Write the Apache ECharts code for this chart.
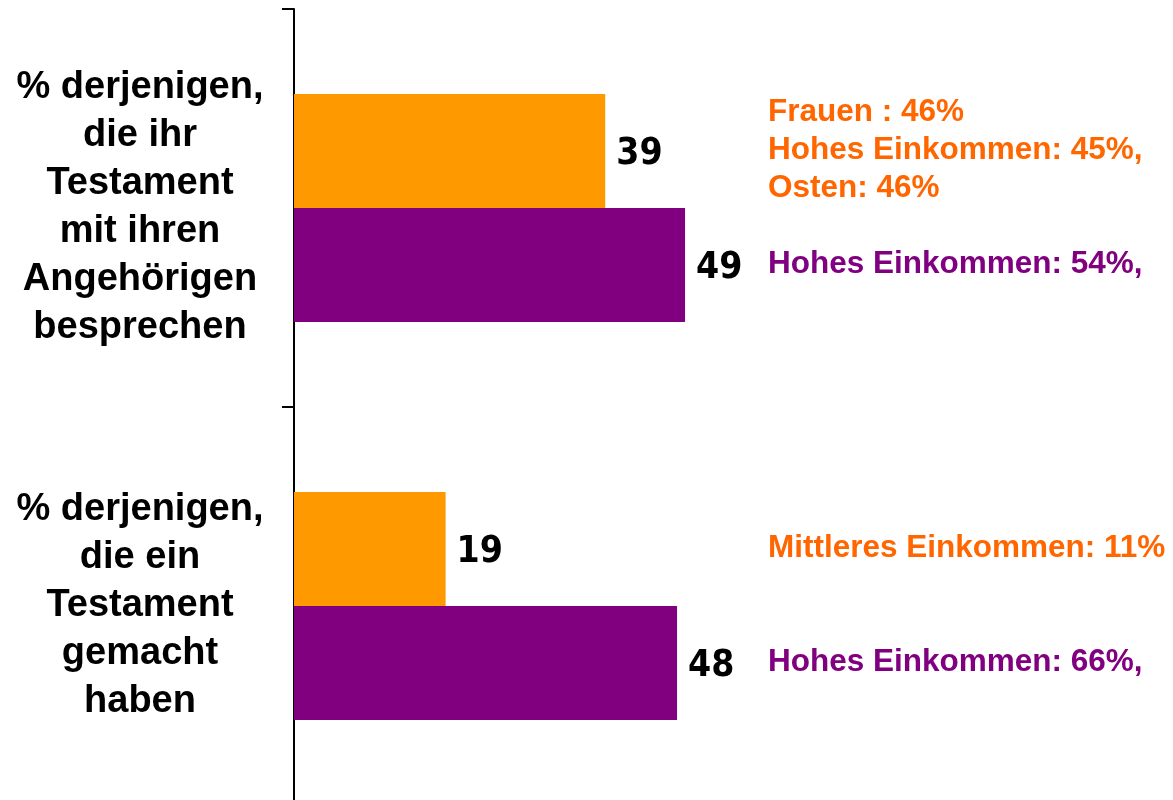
<!DOCTYPE html>
<html>
<head>
<meta charset="utf-8">
<style>
  html, body { margin: 0; padding: 0; background: #ffffff; overflow: hidden; }
  #chart { width: 1173px; height: 812px; }
</style>
<script src="https://cdn.jsdelivr.net/npm/echarts@6/dist/echarts.min.js"></script>
</head>
<body>
<div id="chart"></div>
<script>
// Question labels, top to bottom
const categories = [
  '% derjenigen,\ndie ihr\nTestament\nmit ihren\nAngehörigen\nbesprechen',
  '% derjenigen,\ndie ein\nTestament\ngemacht\nhaben'
];
// Percentages per question
const orangeValues = [39, 19];
const purpleValues = [49, 48];
// Notes printed to the right of each bar
const orangeNotes = ['Frauen : 46%\nHohes Einkommen: 45%,\nOsten: 46%', 'Mittleres Einkommen: 11%'];
const purpleNotes = ['Hohes Einkommen: 54%,', 'Hohes Einkommen: 66%,'];

const ORANGE = '#FF9900';
const PURPLE = '#800080';
const NOTE_ORANGE = '#FF6600';
const BAR_W = 114;

const chart = echarts.init(document.getElementById('chart'));

const valueLabel = {
  show: true,
  position: 'right',
  distance: 11,
  offset: [0, 3],
  color: '#000000',
  fontFamily: '"DejaVu Sans Condensed", "DejaVu Sans", sans-serif',
  fontWeight: 'bold',
  fontSize: 37
};

// The axis runs past the bottom edge of the page, so its last boundary tick stays out of view
chart.setOption({
  animation: false,
  backgroundColor: '#ffffff',
  grid: { left: 294, top: 9, width: 798, height: 796, containLabel: false },
  xAxis: {
    type: 'value',
    min: 0,
    max: 100,
    show: false
  },
  yAxis: {
    type: 'category',
    inverse: true,
    data: categories,
    axisLine: { show: true, lineStyle: { color: '#000000', width: 2 } },
    axisTick: { show: true, length: 12, lineStyle: { color: '#000000', width: 2 } },
    axisLabel: {
      margin: 154,
      align: 'center',
      color: '#000000',
      fontFamily: '"Liberation Sans", Arial, sans-serif',
      fontWeight: 'bold',
      fontSize: 38,
      lineHeight: 48,
      padding: [9, 0, 0, 0]
    },
    splitLine: { show: false }
  },
  series: [
    {
      type: 'bar',
      data: orangeValues,
      barWidth: BAR_W,
      barGap: '0%',
      itemStyle: { color: ORANGE },
      label: valueLabel
    },
    {
      type: 'bar',
      data: purpleValues,
      barWidth: BAR_W,
      barGap: '0%',
      itemStyle: { color: PURPLE },
      label: valueLabel
    }
  ]
});

// Side notes, anchored to the vertical centre of each bar
function noteText(text, color, y) {
  return {
    type: 'text',
    left: 768,
    y: y,
    style: {
      text: text,
      fill: color,
      font: 'bold 31.5px "Liberation Sans", Arial, sans-serif',
      lineHeight: 38,
      verticalAlign: 'middle',
      textVerticalAlign: 'middle'
    }
  };
}

const notes = [];
categories.forEach(function (cat, i) {
  const center = chart.convertToPixel({ yAxisIndex: 0 }, i);
  notes.push(noteText(orangeNotes[i], NOTE_ORANGE, center - BAR_W / 2 - 1));
  notes.push(noteText(purpleNotes[i], PURPLE, center + BAR_W / 2 - 1));
});
chart.setOption({ graphic: notes });
</script>
</body>
</html>
